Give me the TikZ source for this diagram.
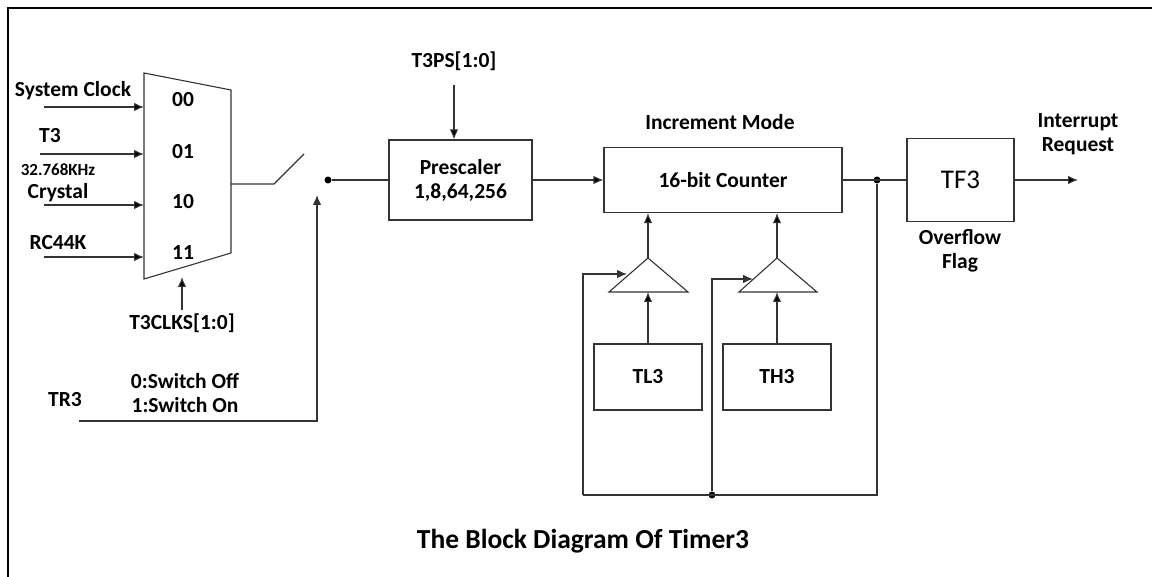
\documentclass[tikz,border=0pt]{standalone}
\usepackage{fontspec}
\setmainfont{Carlito}
\usetikzlibrary{arrows.meta}

\begin{document}
\begin{tikzpicture}[x=1pt,y=-1pt,>={Latex[length=10pt,width=8.5pt]},
  wire/.style={line width=1.1pt,draw=black!80},
  block/.style={draw=black!80,line width=1.1pt,align=center,font=\bfseries\fontsize{21.5}{24}\selectfont},
  lbl/.style={align=center,font=\bfseries\fontsize{21.5}{24}\selectfont},
  dot/.style={circle,fill=black,inner sep=0pt,minimum size=7pt}]

  \useasboundingbox (0,0) rectangle (1152,577);
  \draw[line width=2pt] (1152,8) -- (8,8) -- (8,577);

  % multiplexer
  \coordinate (m1) at (144,73);
  \coordinate (m2) at (231,90);
  \coordinate (m3) at (231,253);
  \coordinate (m4) at (144,279);
  \draw[wire] (m1) -- (m2) -- (m3) -- (m4) -- cycle;
  \node[lbl] (s0) at (183,100) {00};
  \node[lbl] (s1) at (183,152) {01};
  \node[lbl] (s2) at (183,202) {10};
  \node[lbl] (s3) at (183,253) {11};

  \node[lbl] (sysclk) at (73,91) {System Clock};
  \node[lbl] (t3) at (50,136) {T3};
  \node[lbl,font=\bfseries\fontsize{17}{18}\selectfont] (khz) at (58,170) {32.768KHz};
  \node[lbl] (xtal) at (58,193) {Crystal};
  \node[lbl] (rc) at (58,243) {RC44K};

  \coordinate (in0) at (44,107);  \coordinate (mx0) at (144,107);
  \coordinate (in1) at (40,154);  \coordinate (mx1) at (144,154);
  \coordinate (in2) at (44,205);  \coordinate (mx2) at (144,205);
  \coordinate (in3) at (44,257);  \coordinate (mx3) at (144,257);

  \node[lbl] (clks) at (182,323) {T3CLKS[1:0]};
  \coordinate (clksin) at (182,277);

  % switch
  \coordinate (mxout) at (231,184);
  \coordinate (sw1) at (274,184);
  \coordinate (sw2) at (304,154);
  \node[dot] (swdot) at (328,180) {};

  \node[lbl] (tr3) at (65,400) {TR3};
  \node[lbl] (swtxt) at (185,393) {0:Switch Off\\1:Switch On};
  \coordinate (trin) at (79,421);
  \coordinate (trup) at (317,195);

  % prescaler and counter
  \node[block,minimum width=143pt,minimum height=80pt] (presc) at (460.5,180) {Prescaler\\1,8,64,256};
  \node[lbl] (t3ps) at (454,61) {T3PS[1:0]};
  \coordinate (psin) at (454,85);

  \node[block,minimum width=238pt,minimum height=65pt] (cnt) at (723,180) {16-bit Counter};
  \node[lbl] (incmode) at (720,122) {Increment Mode};

  \node[dot] (jn) at (877,180) {};
  \node[block,font=\fontsize{27}{30}\selectfont,minimum width=107pt,minimum height=83pt] (tf3) at (960.5,180) {TF3};
  \node[lbl] (ovf) at (960,251) {Overflow\\Flag};
  \coordinate (irq) at (1078,180);
  \node[lbl] (irqtxt) at (1078,134) {Interrupt\\Request};

  % reload path
  \coordinate (t1a) at (648,258);
  \coordinate (t1l) at (609,292);
  \coordinate (t1r) at (688,292);
  \coordinate (t1b) at (648,292);
  \coordinate (t2a) at (777,258);
  \coordinate (t2l) at (739,292);
  \coordinate (t2r) at (817,292);
  \coordinate (t2b) at (777,292);
  \draw[wire] (t1a) -- (t1l) -- (t1r) -- cycle;
  \draw[wire] (t2a) -- (t2l) -- (t2r) -- cycle;

  \node[block,minimum width=108pt,minimum height=66pt] (tl3) at (648,377) {TL3};
  \node[block,minimum width=108pt,minimum height=66pt] (th3) at (777,377) {TH3};

  \node[dot] (fb) at (712,495) {};
  \coordinate (fbr) at (877,495);
  \coordinate (fbl) at (583,495);
  \coordinate (l1) at (583,274);
  \coordinate (e1) at (627,274);
  \coordinate (l2) at (712,279);
  \coordinate (e2) at (753,279);

  \node[font=\bfseries\fontsize{27.5}{30}\selectfont] (title) at (583,541) {The Block Diagram Of Timer3};

  \path[wire]
    (in0) edge[->] (mx0)
    (in1) edge[->] (mx1)
    (in2) edge[->] (mx2)
    (in3) edge[->] (mx3)
    (clks.north) edge[->] (clksin)
    (psin) edge[->] (presc.north -| psin)
    (swdot) edge (presc.west)
    (presc.east) edge[->] (cnt.west)
    (cnt.east) edge (tf3.west)
    (tf3.east) edge[->] (irq)
    (t1a) edge[->] (cnt.south -| t1a)
    (t2a) edge[->] (cnt.south -| t2a)
    (tl3.north) edge[->] (t1b)
    (th3.north) edge[->] (t2b)
    ;
  \draw[wire] (mxout) -- (sw1) -- (sw2);
  \draw[wire,->] (trin) -| (trup);
  \draw[wire] (jn) -- (fbr) -- (fbl);
  \draw[wire,->] (fbl) -- (l1) -- (e1);
  \draw[wire,->] (fb) -- (l2) -- (e2);
\end{tikzpicture}
\end{document}
